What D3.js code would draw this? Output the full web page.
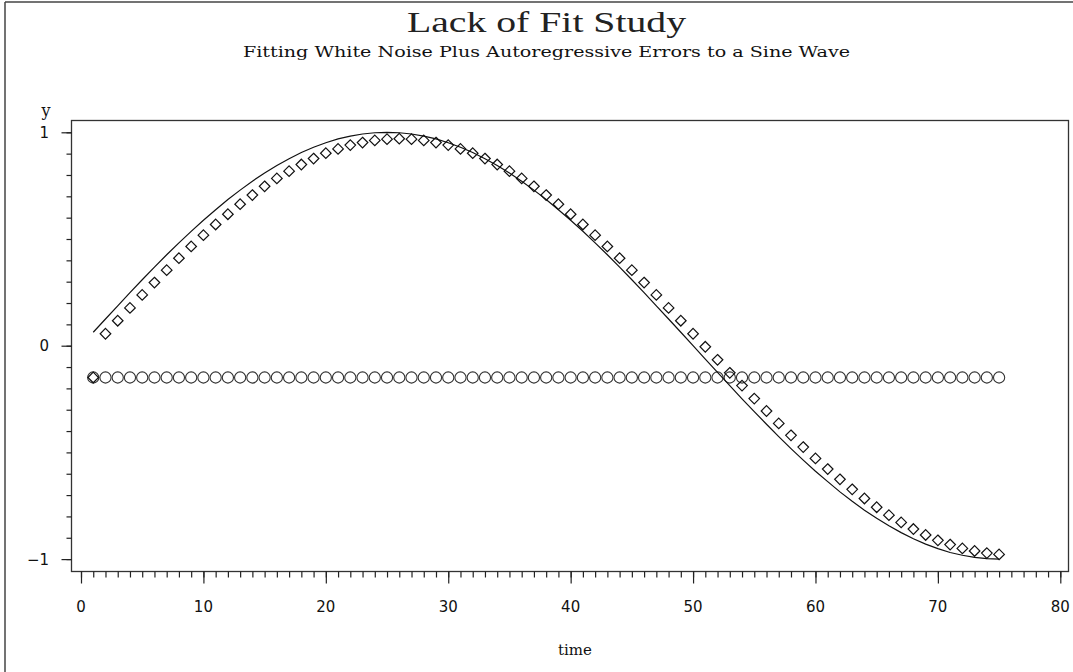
<!DOCTYPE html>
<html>
<head>
<meta charset="utf-8">
<script src="https://cdn.jsdelivr.net/npm/d3@7"></script>
<style>
  html, body { margin: 0; padding: 0; background: #fff; }
  svg { display: block; }
</style>
</head>
<body>
<svg id="chart" width="1073" height="672"></svg>
<script>
// ---- Data ----
const titleText = "Lack of Fit Study";
const subtitleText = "Fitting White Noise Plus Autoregressive Errors to a Sine Wave";
const xLabel = "time";
const yLabel = "y";

const time = d3.range(1, 76); // 1..75

// solid line: true sine wave
const sineValues = [
  0.063, 0.125, 0.187, 0.249, 0.309, 0.368, 0.426, 0.482, 0.536, 0.588,
  0.637, 0.685, 0.729, 0.771, 0.809, 0.844, 0.876, 0.905, 0.930, 0.951,
  0.969, 0.982, 0.992, 0.998, 1.000, 0.998, 0.992, 0.982, 0.969, 0.951,
  0.930, 0.905, 0.876, 0.844, 0.809, 0.771, 0.729, 0.685, 0.637, 0.588,
  0.536, 0.482, 0.426, 0.368, 0.309, 0.249, 0.187, 0.125, 0.063, 0.000,
  -0.063, -0.125, -0.187, -0.249, -0.309, -0.368, -0.426, -0.482, -0.536, -0.588,
  -0.637, -0.685, -0.729, -0.771, -0.809, -0.844, -0.876, -0.905, -0.930, -0.951,
  -0.969, -0.982, -0.992, -0.998, -1.000
];

// diamonds: fitted (autoregressive) values
const fittedValues = [
  -0.149, 0.056, 0.117, 0.177, 0.238, 0.296, 0.354, 0.410, 0.465, 0.518,
  0.568, 0.616, 0.663, 0.706, 0.747, 0.784, 0.818, 0.849, 0.877, 0.902,
  0.922, 0.940, 0.952, 0.962, 0.968, 0.970, 0.968, 0.962, 0.952, 0.940,
  0.922, 0.902, 0.877, 0.849, 0.818, 0.784, 0.747, 0.706, 0.663, 0.616,
  0.568, 0.518, 0.465, 0.410, 0.354, 0.296, 0.238, 0.177, 0.117, 0.056,
  -0.005, -0.066, -0.127, -0.187, -0.248, -0.306, -0.364, -0.420, -0.475, -0.528,
  -0.578, -0.626, -0.673, -0.716, -0.757, -0.794, -0.828, -0.859, -0.887, -0.912,
  -0.932, -0.950, -0.962, -0.972, -0.978
];

// circles: white-noise fit (constant)
const noiseValues = time.map(() => -0.149);

const xMajorTicks = [0, 10, 20, 30, 40, 50, 60, 70, 80];
const xMinorTicks = d3.range(0, 81);
const yMajorTicks = [-1, 0, 1];
const yMajorLabels = ["\u22121", "0", "1"];
const yMinorTicks = d3.range(-10, 11).map(d => d / 10);

// ---- Drawing ----
const svg = d3.select("#chart");

const frame = { left: 71.5, right: 1068.5, top: 120.5, bottom: 571.5 };
const x = d3.scaleLinear().domain([0, 80]).range([81, 1060.3]);
const y = d3.scaleLinear().domain([-1, 1]).range([559.1, 132.3]);

// outer border (top & left visible)
svg.append("line").attr("x1", 5).attr("y1", 2).attr("x2", 1073).attr("y2", 2)
  .attr("stroke", "#444").attr("stroke-width", 1.5);
svg.append("line").attr("x1", 5).attr("y1", 2).attr("x2", 5).attr("y2", 672)
  .attr("stroke", "#444").attr("stroke-width", 1.5);

// titles
svg.append("text").attr("x", 546.5).attr("y", 32)
  .attr("text-anchor", "middle")
  .attr("font-family", "Liberation Serif").attr("font-size", 29)
  .attr("textLength", 279).attr("lengthAdjust", "spacingAndGlyphs")
  .attr("fill", "#222").style("font-weight", "normal")
  .text(titleText);
svg.append("text").attr("x", 546.5).attr("y", 57)
  .attr("text-anchor", "middle")
  .attr("font-family", "DejaVu Serif").attr("font-size", 14.5)
  .attr("textLength", 607).attr("lengthAdjust", "spacingAndGlyphs")
  .attr("fill", "#111")
  .text(subtitleText);

// plot frame
svg.append("rect")
  .attr("x", frame.left).attr("y", frame.top)
  .attr("width", frame.right - frame.left).attr("height", frame.bottom - frame.top)
  .attr("fill", "none").attr("stroke", "#333").attr("stroke-width", 1.3);

// x axis: minor and major ticks
const xMinor = svg.append("g").attr("transform", `translate(0,${frame.bottom})`)
  .call(d3.axisBottom(x).tickValues(xMinorTicks).tickSize(6).tickFormat(""));
const xMajor = svg.append("g").attr("transform", `translate(0,${frame.bottom})`)
  .call(d3.axisBottom(x).tickValues(xMajorTicks).tickSize(12).tickFormat(""));
[xMinor, xMajor].forEach(g => {
  g.select(".domain").remove();
  g.selectAll("line").attr("stroke", "#222").attr("stroke-width", 1.2);
});
svg.append("g").selectAll("text").data(xMajorTicks).join("text")
  .attr("x", d => x(d)).attr("y", 612)
  .attr("text-anchor", "middle")
  .attr("font-family", "DejaVu Sans").attr("font-size", 15)
  .attr("fill", "#111")
  .text(d => d);

// y axis: minor and major ticks
const yMinor = svg.append("g").attr("transform", `translate(${frame.left},0)`)
  .call(d3.axisLeft(y).tickValues(yMinorTicks).tickSize(5).tickFormat(""));
const yMajor = svg.append("g").attr("transform", `translate(${frame.left},0)`)
  .call(d3.axisLeft(y).tickValues(yMajorTicks).tickSize(10).tickFormat(""));
[yMinor, yMajor].forEach(g => {
  g.select(".domain").remove();
  g.selectAll("line").attr("stroke", "#222").attr("stroke-width", 1.2);
});
svg.append("g").selectAll("text").data(yMajorTicks).join("text")
  .attr("x", 49).attr("y", d => y(d) + 5.5)
  .attr("text-anchor", "end")
  .attr("font-family", "DejaVu Sans").attr("font-size", 15)
  .attr("fill", "#111")
  .text((d, i) => yMajorLabels[i]);

// axis labels
svg.append("text").attr("x", 46).attr("y", 116)
  .attr("text-anchor", "middle")
  .attr("font-family", "DejaVu Serif").attr("font-size", 16)
  .attr("fill", "#111").text(yLabel);
svg.append("text").attr("x", 575).attr("y", 655)
  .attr("text-anchor", "middle")
  .attr("font-family", "DejaVu Serif").attr("font-size", 15)
  .attr("fill", "#111").text(xLabel);

// circles (white noise)
svg.append("g").selectAll("circle").data(time).join("circle")
  .attr("cx", (d) => x(d)).attr("cy", (d, i) => y(noiseValues[i]))
  .attr("r", 5.6)
  .attr("fill", "none").attr("stroke", "#333").attr("stroke-width", 1.1);

// sine line
const line = d3.line().x(d => x(d.t)).y(d => y(d.v));
svg.append("path")
  .datum(time.map((t, i) => ({ t, v: sineValues[i] })))
  .attr("d", line)
  .attr("fill", "none").attr("stroke", "#111").attr("stroke-width", 1.2);

// diamonds (fitted)
const dia = 5.3;
svg.append("g").selectAll("path").data(time).join("path")
  .attr("transform", (d, i) => `translate(${x(d)},${y(fittedValues[i])})`)
  .attr("d", `M0,${-dia}L${dia},0L0,${dia}L${-dia},0Z`)
  .attr("fill", "none").attr("stroke", "#111").attr("stroke-width", 1.2);
</script>
</body>
</html>
